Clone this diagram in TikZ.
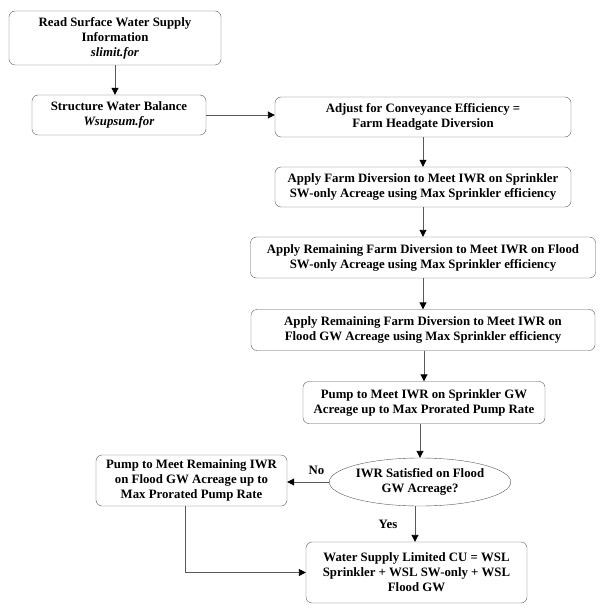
\documentclass[tikz,border=0pt]{standalone}
\usepackage{fontspec}
\setmainfont{Liberation Serif}
\usetikzlibrary{arrows.meta,shapes.geometric}
\tikzset{
  stepbox/.style={draw=black!65,rounded corners=6pt,align=center,inner sep=1pt,
    font=\fontsize{12.8}{15}\selectfont\bfseries},
  testnode/.style={draw=black!65,ellipse,align=center,inner sep=0pt,
    font=\fontsize{12.8}{15}\selectfont\bfseries},
  flow/.style={draw=black!65,line width=0.9pt,-{Triangle[length=7pt,width=7pt,fill=black,color=black]}}
}
\begin{document}
\begin{tikzpicture}[x=1pt,y=-1pt]
      \useasboundingbox (0,0) rectangle (607,612);
      \draw
        (115,38) node[stepbox,minimum width=212pt,minimum height=54pt] (read){Read Surface Water Supply\\Information\\\textit{slimit.for}}
        (119,115) node[stepbox,minimum width=174pt,minimum height=40pt] (balance){Structure Water Balance\\\textit{Wsupsum.for}}
        (423,117) node[stepbox,minimum width=296pt,minimum height=40pt] (adjust){Adjust for Conveyance Efficiency =\\Farm Headgate Diversion}
        (423,187) node[stepbox,minimum width=296pt,minimum height=40pt] (sprinkler){Apply Farm Diversion to Meet IWR on Sprinkler\\SW-only Acreage using Max Sprinkler efficiency}
        (423,257.5) node[stepbox,minimum width=345pt,minimum height=41pt] (floodsw){Apply Remaining Farm Diversion to Meet IWR on Flood\\SW-only Acreage using Max Sprinkler efficiency}
        (423,330) node[stepbox,minimum width=344pt,minimum height=41pt] (floodgw){Apply Remaining Farm Diversion to Meet IWR on\\Flood GW Acreage using Max Sprinkler efficiency}
        (424,402.5) node[stepbox,minimum width=242pt,minimum height=42pt] (pump){Pump to Meet IWR on Sprinkler GW\\Acreage up to Max Prorated Pump Rate}
        (420,482) node[testnode,minimum width=173pt,minimum height=48pt] (satisfied){IWR Satisfied on Flood\\GW Acreage?}
        (191.5,480.5) node[stepbox,minimum width=191pt,minimum height=51pt] (pumprem){Pump to Meet Remaining IWR\\on Flood GW Acreage up to\\Max Prorated Pump Rate}
        (416.5,572.5) node[stepbox,minimum width=221pt,minimum height=61pt] (wsl){Water Supply Limited CU = WSL\\Sprinkler + WSL SW-only + WSL\\Flood GW};
      \begin{scope}[flow]
        \draw (read.south) -- (read.south |- balance.north);
        \draw (balance.east) -- (balance.east -| adjust.west);
        \draw (adjust) -- (sprinkler);
        \draw (sprinkler) -- (floodsw);
        \draw (floodsw) -- (floodgw);
        \draw (floodgw.south -| pump.north) -- (pump.north);
        \draw (pump.south -| satisfied.north) -- (satisfied.north);
        \draw (satisfied.west) -- (satisfied.west -| pumprem.east)
          node[pos=0.3,above=4pt,font=\fontsize{12.8}{15}\selectfont\bfseries] {No};
        \draw ([xshift=-5pt]satisfied.south) -- ([xshift=-5pt]satisfied.south |- wsl.north)
          node[midway,left=14pt,font=\fontsize{12.8}{15}\selectfont\bfseries] {Yes};
        \draw ([xshift=-6.5pt]pumprem.south) |- (wsl.west);
      \end{scope}
    \end{tikzpicture}
\end{document}
